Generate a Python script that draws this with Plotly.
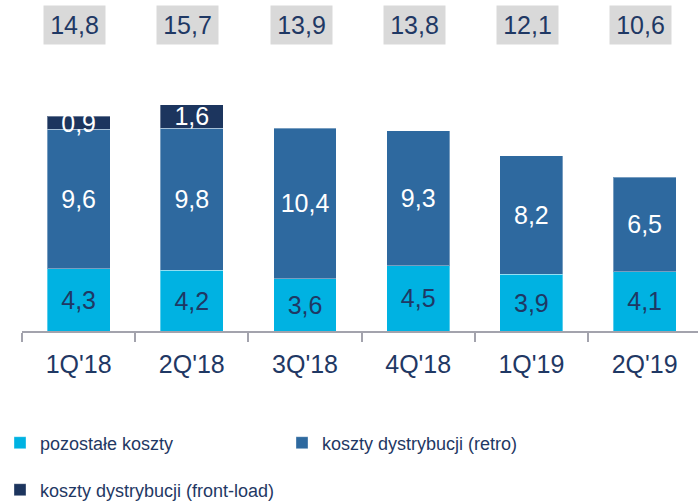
import plotly.graph_objects as go

categories = ["1Q'18", "2Q'18", "3Q'18", "4Q'18", "1Q'19", "2Q'19"]
pozostale = [4.3, 4.2, 3.6, 4.5, 3.9, 4.1]
retro = [9.6, 9.8, 10.4, 9.3, 8.2, 6.5]
front_load = [0.9, 1.6, None, None, None, None]
totals = [14.8, 15.7, 13.9, 13.8, 12.1, 10.6]

names = ["pozostałe koszty", "koszty dystrybucji (retro)", "koszty dystrybucji (front-load)"]
colors = ["#00B2E2", "#2E699F", "#1C355E"]
NAVY = "#1F3864"
FONT = "Liberation Sans, Arial, sans-serif"


def fmt(v):
    return "" if v is None else f"{v:.1f}".replace(".", ",")


fig = go.Figure()
series = [pozostale, retro, front_load]
text_colors = [NAVY, "white", "white"]
legend_ids = ["legend", "legend", "legend2"]
for vals, name, col, tcol, lg in zip(series, names, colors, text_colors, legend_ids):
    fig.add_trace(go.Bar(
        x=categories, y=vals, name=name,
        marker=dict(color=col, line=dict(color="rgba(255,255,255,0.35)", width=1)),
        text=[fmt(v) for v in vals], textposition="inside", insidetextanchor="middle",
        textangle=0, constraintext="none",
        textfont=dict(family=FONT, size=25, color=tcol),
        legend=lg, hoverinfo="skip",
    ))

for cat, tot in zip(categories, totals):
    fig.add_annotation(
        x=cat, xref="x", y=1 - 25 / 331, yref="paper", yanchor="middle",
        xshift=-4, text=fmt(tot), showarrow=False,
        font=dict(family=FONT, size=25, color=NAVY),
        bgcolor="#D9D9D9", width=55, height=32, borderpad=3,
    )

plot_w = 698 - 22
fig.update_layout(
    width=698, height=502,
    margin=dict(l=22, r=0, t=0, b=171, autoexpand=False),
    paper_bgcolor="white", plot_bgcolor="white",
    barmode="stack", bargap=0.444,
    uniformtext=dict(minsize=25, mode="show"),
    font=dict(family=FONT, color=NAVY),
    xaxis=dict(
        type="category", range=[-0.5, -0.5 + plot_w / 113.2],
        showline=True, linecolor="#A3A3AD", linewidth=1.5,
        ticks="outside", tickson="boundaries", ticklen=9, tickcolor="#A3A3AD", tickwidth=1.5,
        tickfont=dict(family=FONT, size=25, color=NAVY), showgrid=False,
        ticklabelstandoff=10, automargin=False,
    ),
    yaxis=dict(range=[0, 331 / 14.5], visible=False, showgrid=False, zeroline=False,
               automargin=False),
    legend=dict(
        orientation="h", xref="container", yref="container",
        x=0.0, y=1 - 443 / 502, xanchor="left", yanchor="middle",
        entrywidth=237, entrywidthmode="pixels", itemwidth=30,
        font=dict(family=FONT, size=18, color=NAVY), bgcolor="rgba(0,0,0,0)",
        traceorder="normal",
    ),
    legend2=dict(
        orientation="h", xref="container", yref="container",
        x=0.0, y=1 - 490 / 502, xanchor="left", yanchor="middle",
        itemwidth=30,
        font=dict(family=FONT, size=18, color=NAVY), bgcolor="rgba(0,0,0,0)",
    ),
    showlegend=True,
)

fig.write_html("out.html", config={"displayModeBar": False},
               post_script="document.body.style.margin='0';")
